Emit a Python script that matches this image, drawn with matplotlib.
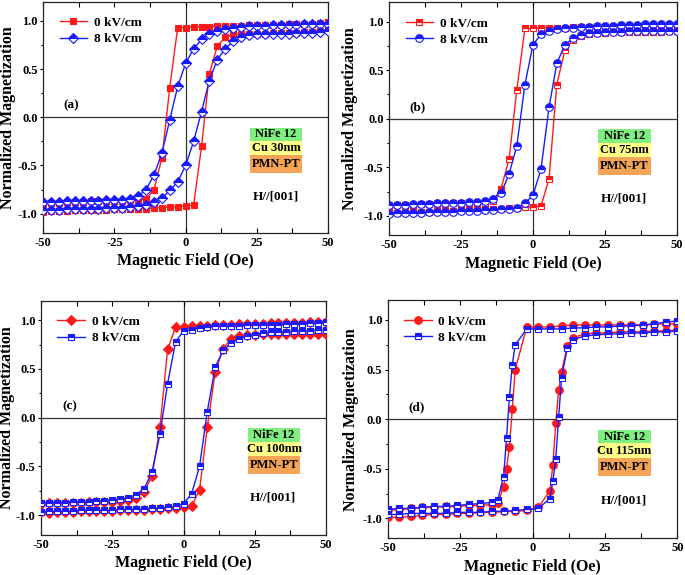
import matplotlib
matplotlib.use("Agg")
import matplotlib.pyplot as plt
from matplotlib.patches import Rectangle
from matplotlib.ticker import MultipleLocator, FormatStrFormatter

plt.rcParams['font.family'] = ['Liberation Serif', 'DejaVu Serif']
plt.rcParams['font.weight'] = 'bold'
plt.rcParams['axes.unicode_minus'] = False

# field grid (Oe) shared by panels a-c, both branches
field = [-50.0, -47.2, -44.4, -41.7, -38.9, -36.1, -33.3, -30.6, -27.8, -25.0,
         -22.2, -19.4, -16.7, -13.9, -11.1, -8.3, -5.6, -2.8, 0.0,
         2.8, 5.6, 8.3, 11.1, 13.9, 16.7, 19.4, 22.2, 25.0,
         27.8, 30.6, 33.3, 36.1, 38.9, 41.7, 44.4, 47.2, 50.0]

# (a) Cu 30nm
a_red_down = [-0.90, -0.89, -0.89, -0.88, -0.88, -0.88, -0.87, -0.87, -0.87, -0.87,
              -0.87, -0.86, -0.86, -0.85, -0.75, -0.42, 0.30, 0.93, 0.93,
              0.94, 0.94, 0.94, 0.95, 0.95, 0.95, 0.95, 0.96, 0.96,
              0.96, 0.96, 0.96, 0.97, 0.97, 0.97, 0.97, 0.98, 0.99]
a_red_up = [-0.98, -0.97, -0.97, -0.97, -0.96, -0.96, -0.96, -0.96, -0.96, -0.95,
            -0.95, -0.95, -0.95, -0.95, -0.94, -0.94, -0.93, -0.93, -0.92,
            -0.91, -0.30, 0.45, 0.74, 0.83, 0.86, 0.87, 0.87, 0.87,
            0.87, 0.88, 0.88, 0.88, 0.88, 0.89, 0.89, 0.90, 0.91]
a_blue_down = [-0.88, -0.88, -0.88, -0.87, -0.87, -0.87, -0.87, -0.87, -0.86, -0.86,
               -0.86, -0.85, -0.82, -0.75, -0.60, -0.37, -0.03, 0.32, 0.56,
               0.71, 0.81, 0.86, 0.90, 0.92, 0.93, 0.94, 0.95, 0.95,
               0.95, 0.96, 0.96, 0.96, 0.96, 0.97, 0.97, 0.97, 0.97]
a_blue_up = [-0.96, -0.96, -0.96, -0.95, -0.95, -0.95, -0.95, -0.95, -0.94, -0.94,
             -0.94, -0.93, -0.92, -0.91, -0.88, -0.84, -0.76, -0.67, -0.50,
             -0.25, 0.06, 0.38, 0.60, 0.71, 0.79, 0.83, 0.85, 0.86,
             0.87, 0.87, 0.87, 0.87, 0.88, 0.88, 0.88, 0.89, 0.90]

# (b) Cu 75nm
b_red_down = [-0.90, -0.89, -0.89, -0.89, -0.88, -0.88, -0.88, -0.88, -0.87, -0.87,
              -0.87, -0.87, -0.87, -0.85, -0.72, -0.42, 0.30, 0.93, 0.93,
              0.94, 0.94, 0.94, 0.94, 0.95, 0.95, 0.95, 0.95, 0.95,
              0.95, 0.95, 0.95, 0.95, 0.95, 0.96, 0.96, 0.96, 0.96]
b_red_up = [-0.97, -0.97, -0.96, -0.96, -0.96, -0.96, -0.95, -0.95, -0.95, -0.94,
            -0.94, -0.94, -0.94, -0.93, -0.93, -0.92, -0.92, -0.91, -0.91,
            -0.90, -0.62, 0.35, 0.71, 0.81, 0.85, 0.87, 0.88, 0.88,
            0.89, 0.89, 0.89, 0.89, 0.89, 0.89, 0.89, 0.90, 0.90]
b_blue_down = [-0.89, -0.89, -0.89, -0.88, -0.88, -0.88, -0.87, -0.87, -0.87, -0.87,
               -0.86, -0.86, -0.85, -0.83, -0.77, -0.57, -0.28, 0.35, 0.76,
               0.87, 0.90, 0.92, 0.93, 0.94, 0.95, 0.95, 0.96, 0.96,
               0.96, 0.97, 0.97, 0.97, 0.98, 0.98, 0.98, 0.98, 0.98]
b_blue_up = [-0.98, -0.97, -0.97, -0.97, -0.97, -0.96, -0.96, -0.96, -0.96, -0.95,
             -0.95, -0.95, -0.94, -0.94, -0.93, -0.93, -0.92, -0.87, -0.79,
             -0.52, 0.12, 0.57, 0.76, 0.83, 0.86, 0.88, 0.88, 0.89,
             0.89, 0.89, 0.90, 0.90, 0.90, 0.90, 0.90, 0.90, 0.90]

# (c) Cu 100nm
c_red_down = [-0.88, -0.87, -0.87, -0.87, -0.87, -0.87, -0.86, -0.86, -0.86, -0.86,
              -0.85, -0.84, -0.82, -0.76, -0.60, -0.10, 0.70, 0.93, 0.93,
              0.94, 0.94, 0.94, 0.95, 0.95, 0.95, 0.96, 0.96, 0.96,
              0.96, 0.97, 0.97, 0.97, 0.97, 0.97, 0.98, 0.98, 0.98]
c_red_up = [-0.97, -0.98, -0.97, -0.97, -0.97, -0.96, -0.96, -0.96, -0.96, -0.96,
            -0.95, -0.95, -0.95, -0.95, -0.94, -0.94, -0.93, -0.93, -0.92,
            -0.91, -0.74, -0.10, 0.47, 0.71, 0.81, 0.84, 0.85, 0.85,
            0.86, 0.86, 0.86, 0.86, 0.86, 0.86, 0.86, 0.86, 0.86]
c_blue_down = [-0.87, -0.87, -0.87, -0.87, -0.86, -0.86, -0.86, -0.85, -0.85, -0.84,
               -0.83, -0.82, -0.79, -0.73, -0.56, -0.17, 0.35, 0.78, 0.89,
               0.90, 0.92, 0.93, 0.94, 0.94, 0.94, 0.94, 0.95, 0.95,
               0.95, 0.95, 0.95, 0.96, 0.96, 0.96, 0.97, 0.97, 0.98]
c_blue_up = [-0.97, -0.96, -0.96, -0.96, -0.96, -0.95, -0.95, -0.95, -0.95, -0.95,
             -0.94, -0.94, -0.94, -0.94, -0.93, -0.93, -0.92, -0.91, -0.88,
             -0.78, -0.50, 0.06, 0.52, 0.69, 0.77, 0.81, 0.84, 0.85,
             0.87, 0.88, 0.88, 0.88, 0.89, 0.89, 0.89, 0.90, 0.90]

# (d) Cu 115nm, own field grids for each sweep direction
field_d_down = [-50, -46, -42, -38, -34, -30, -26, -22, -18, -14, -12, -10, -9, -8, -7,
                -6, -2, 2, 6, 10, 14, 18, 22, 26, 30, 34, 38, 42, 46, 50]
field_d_up = [-50, -46, -42, -38, -34, -30, -26, -22, -18, -14, -10, -6, -2, 2, 6,
              7, 8, 9, 10, 12, 14, 18, 22, 26, 30, 34, 38, 42, 46, 50]
d_red_down = [-0.92, -0.91, -0.90, -0.89, -0.89, -0.88, -0.88, -0.87, -0.87, -0.86,
              -0.85, -0.68, -0.50, -0.28, 0.10, 0.50, 0.93, 0.93, 0.93, 0.94,
              0.95, 0.95, 0.95, 0.95, 0.95, 0.95, 0.95, 0.96, 0.96, 0.96]
d_blue_down = [-0.91, -0.90, -0.90, -0.89, -0.88, -0.88, -0.87, -0.86, -0.85, -0.84,
               -0.81, -0.58, -0.19, 0.22, 0.55, 0.75, 0.91, 0.91, 0.91, 0.91,
               0.92, 0.92, 0.93, 0.93, 0.94, 0.94, 0.95, 0.96, 0.98, 0.99]
d_red_up = [-0.99, -0.99, -0.98, -0.97, -0.96, -0.96, -0.95, -0.95, -0.94, -0.94,
            -0.93, -0.93, -0.92, -0.89, -0.72, -0.46, -0.04, 0.29, 0.48, 0.74,
            0.82, 0.86, 0.87, 0.87, 0.88, 0.88, 0.88, 0.89, 0.89, 0.90]
d_blue_up = [-0.96, -0.96, -0.95, -0.95, -0.95, -0.95, -0.94, -0.94, -0.94, -0.93,
             -0.93, -0.92, -0.91, -0.90, -0.80, -0.62, -0.40, 0.02, 0.42, 0.72,
             0.80, 0.84, 0.85, 0.86, 0.86, 0.87, 0.87, 0.88, 0.88, 0.89]

labels = ['0 kV/cm', '8 kV/cm']
panel_tags = ['(a)', '(b)', '(c)', '(d)']
cu_layers = ['Cu 30nm', 'Cu 75nm', 'Cu 100nm', 'Cu 115nm']

RED = '#ff1a1a'
BLUE = '#1a1aff'

# rect, data, red marker/fill, blue marker/fill, ylabel x offset (axes coords)
panels = [
    dict(rect=[0.063, 0.595, 0.416, 0.402], hd=field, hu=field,
         red=(a_red_down, a_red_up), blue=(a_blue_down, a_blue_up),
         rm=('s', 'full'), bm=('D', 'top'), ylx=-0.097),
    dict(rect=[0.568, 0.591, 0.420, 0.405], hd=field, hu=field,
         red=(b_red_down, b_red_up), blue=(b_blue_down, b_blue_up),
         rm=('s', 'top'), bm=('o', 'top'), ylx=-0.108),
    dict(rect=[0.060, 0.070, 0.416, 0.407], hd=field, hu=field,
         red=(c_red_down, c_red_up), blue=(c_blue_down, c_blue_up),
         rm=('D', 'full'), bm=('s', 'top'), ylx=-0.093),
    dict(rect=[0.566, 0.064, 0.423, 0.414], hd=field_d_down, hu=field_d_up,
         red=(d_red_down, d_red_up), blue=(d_blue_down, d_blue_up),
         rm=('o', 'full'), bm=('s', 'top'), ylx=-0.100),
]

fig = plt.figure(figsize=(6.85, 5.75), dpi=100)

for i, p in enumerate(panels):
    ax = fig.add_axes(p['rect'])
    ax.axhline(0, color='#333333', lw=0.9, zorder=1)
    ax.axvline(0, color='#333333', lw=0.9, zorder=1)

    for color, ys, (mk, fs), lab in [(RED, p['red'], p['rm'], labels[0]),
                                     (BLUE, p['blue'], p['bm'], labels[1])]:
        ms = 5.5 if mk == 'o' else 5
        style = dict(color=color, lw=1.0, marker=mk, ms=ms, fillstyle=fs,
                     markerfacecoloralt='white', mec=color, mew=0.8, zorder=3)
        ax.plot(p['hd'], ys[0], label=lab, **style)
        ax.plot(p['hu'], ys[1], **style)

    ax.set_xlim(-50, 50)
    ax.set_ylim(-1.2, 1.2)
    ax.xaxis.set_major_locator(MultipleLocator(25))
    ax.xaxis.set_minor_locator(MultipleLocator(12.5))
    ax.yaxis.set_major_locator(MultipleLocator(0.5))
    ax.yaxis.set_minor_locator(MultipleLocator(0.25))
    ax.yaxis.set_major_formatter(FormatStrFormatter('%.1f'))
    ax.tick_params(axis='x', which='both', direction='in', top=True, length=3.5,
                   width=0.8, pad=3)
    ax.tick_params(axis='y', which='major', direction='out', length=2.5, width=0.8,
                   pad=1.5)
    ax.tick_params(axis='y', which='minor', direction='out', length=1.8, width=0.8)
    ax.tick_params(labelsize=9)
    for lbl in ax.get_xticklabels() + ax.get_yticklabels():
        lbl.set_fontweight('bold')
    for sp in ax.spines.values():
        sp.set_color('#222222')
        sp.set_linewidth(0.9)

    ax.set_xlabel('Magnetic Field (Oe)', fontsize=11.5, fontweight='bold', labelpad=3)
    ax.set_ylabel('Normalized Magnetization', fontsize=11.5, fontweight='bold')
    ax.yaxis.set_label_coords(p['ylx'], 0.5)

    ax.legend(loc='upper left', bbox_to_anchor=(0.025, 0.975), frameon=False,
              prop=dict(size=9.5, weight='bold'), handlelength=2.1,
              handletextpad=0.5, labelspacing=0.3, borderpad=0.2)

    ax.text(-40, 0.12, panel_tags[i], fontsize=9.5, fontweight='bold',
            ha='center', va='center')
    ax.text(31.5, -0.82, 'H//[001]', fontsize=9.5, fontweight='bold',
            ha='center', va='center')

    layers = [('NiFe 12', '#80ee80', -0.11, -0.245),
              (cu_layers[i], '#ffff88', -0.245, -0.395),
              ('PMN-PT', '#f5a455', -0.395, -0.575)]
    for txt, fc, y0, y1 in layers:
        ax.add_patch(Rectangle((22.5, y1), 18.5, y0 - y1, facecolor=fc,
                               edgecolor='none', zorder=2))
        ax.text(31.75, (y0 + y1) / 2, txt, fontsize=9, fontweight='bold',
                ha='center', va='center', zorder=4)

fig.savefig('out.png', dpi=100)
